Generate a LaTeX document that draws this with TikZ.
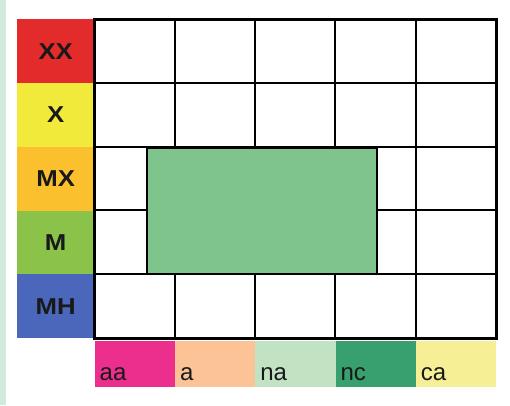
\documentclass[tikz,border=0pt]{standalone}
\usepackage{fontspec}
\setmainfont{Liberation Sans}
\newfontfamily\labfont[FakeStretch=1.12]{Liberation Sans Bold}
\definecolor{cXX}{HTML}{E32B2B}
\definecolor{cX}{HTML}{F2EA3A}
\definecolor{cMX}{HTML}{FBC02D}
\definecolor{cM}{HTML}{8BC34A}
\definecolor{cMH}{HTML}{4A67BC}
\definecolor{caa}{HTML}{EC2F8C}
\definecolor{ca}{HTML}{FCC396}
\definecolor{cna}{HTML}{C2E2C4}
\definecolor{cnc}{HTML}{37A06E}
\definecolor{cca}{HTML}{F6EF96}
\definecolor{cbox}{HTML}{7EC48C}
\definecolor{cstrip}{HTML}{D0EADB}
\tikzset{
  rowlab/.style={minimum width=77pt, minimum height=63.8pt, inner sep=0pt, anchor=north west,
    font=\labfont\fontsize{23}{23}\selectfont, text=black!90},
  collab/.style={minimum width=80.3pt, minimum height=46pt, inner sep=0pt, anchor=north west},
  coltext/.style={anchor=base west, inner sep=0pt, font=\fontsize{24}{24}\selectfont, text=black!90},
  gridline/.style={line width=2pt, black},
  border/.style={line width=3pt, black},
  boxstyle/.style={fill=cbox, draw=black, line width=2pt}
}
\begin{document}
\begin{tikzpicture}[x=1pt,y=-1pt]
\useasboundingbox (0,0) rectangle (510,405);
\fill[white] (0,0) rectangle (510,405);
\fill[cstrip] (0,0) rectangle (6,405);
% row labels
\node[rowlab, fill=cXX] (xx) at (17,19) {XX};
\node[rowlab, fill=cX] (x) at (17,82.8) {X};
\node[rowlab, fill=cMX] (mx) at (17,146.6) {MX};
\node[rowlab, fill=cM] (m) at (17,210.4) {M};
\node[rowlab, fill=cMH] (mh) at (17,274.2) {MH};
% column labels
\node[collab, fill=caa] (aa) at (94.5,341) {};
\node[collab, fill=ca] (a) at (174.8,341) {};
\node[collab, fill=cna] (na) at (255.1,341) {};
\node[collab, fill=cnc] (nc) at (335.4,341) {};
\node[collab, fill=cca] (ca) at (415.7,341) {};
\node[coltext] (taa) at (99.5,380.5) {aa};
\node[coltext] (ta) at (179.8,380.5) {a};
\node[coltext] (tna) at (260.1,380.5) {na};
\node[coltext] (tnc) at (340.4,380.5) {nc};
\node[coltext] (tca) at (420.7,380.5) {ca};
% grid
\foreach \xx in {174.8,255.1,335.4,415.7}
  \draw[gridline] (\xx,19) -- (\xx,338);
\foreach \yy in {82.8,146.6,210.4,274.2}
  \draw[gridline] (94.5,\yy) -- (496,\yy);
\draw[border] (94.5,19) rectangle (496,338);
% central box
\node[boxstyle, minimum width=230pt, minimum height=126pt, inner sep=0pt, anchor=north west] (box) at (146,146.6) {};
\end{tikzpicture}
\end{document}
